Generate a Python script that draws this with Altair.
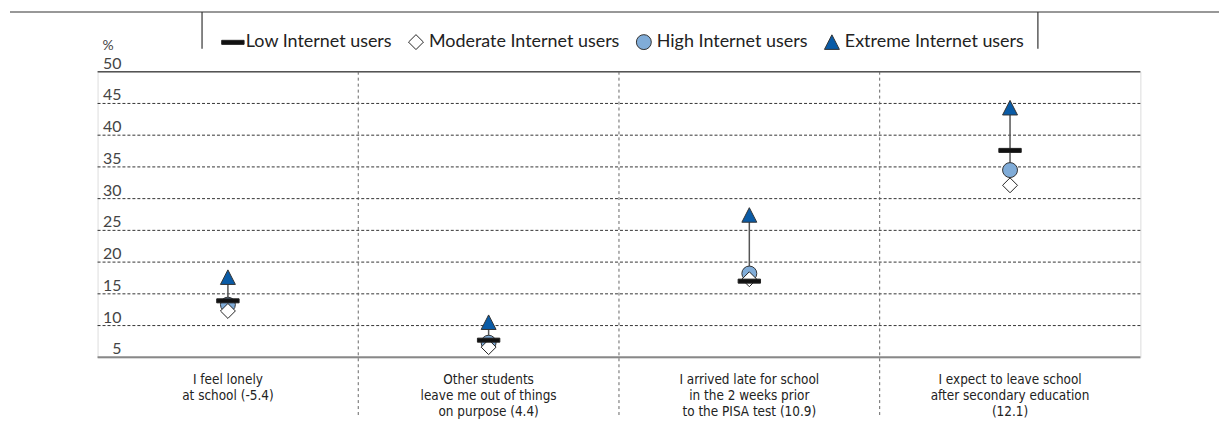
import altair as alt
import pandas as pd

# ---- data ----
categories = [
    "I feel lonely\nat school (-5.4)",
    "Other students\nleave me out of things\non purpose (4.4)",
    "I arrived late for school\nin the 2 weeks prior\nto the PISA test (10.9)",
    "I expect to leave school\nafter secondary education\n(12.1)",
]
groups = ["Low Internet users", "Moderate Internet users", "High Internet users", "Extreme Internet users"]
low = [13.9, 7.7, 17.0, 37.6]
moderate = [12.3, 6.6, 17.3, 32.1]
high = [13.3, 7.3, 18.2, 34.5]
extreme = [17.6, 10.5, 27.4, 44.3]
y_ticks = [5, 10, 15, 20, 25, 30, 35, 40, 45, 50]

series = {groups[0]: low, groups[1]: moderate, groups[2]: high, groups[3]: extreme}
draw_order = [groups[2], groups[1], groups[0], groups[3]]

rows = []
for g in draw_order:
    for i, v in enumerate(series[g]):
        rows.append({"pos": i + 0.5, "group": g, "value": v})
points = pd.DataFrame(rows)

ranges = pd.DataFrame({
    "pos": [i + 0.5 for i in range(len(categories))],
    "lo": [min(low[i], moderate[i], high[i], extreme[i]) for i in range(len(categories))],
    "hi": [max(low[i], moderate[i], high[i], extreme[i]) for i in range(len(categories))],
})
cats = pd.DataFrame({"pos": [i + 0.5 for i in range(len(categories))], "label": categories})
seps = pd.DataFrame({"pos": [i for i in range(1, len(categories))]})
ticks = pd.DataFrame({"v": y_ticks})
grid = pd.DataFrame({"v": [t for t in y_ticks if t not in (y_ticks[0], y_ticks[-1])]})
top = pd.DataFrame({"v": [y_ticks[-1]]})
bottom = pd.DataFrame({"v": [y_ticks[0]]})
one = pd.DataFrame({"a": [0]})

W, H = 1048, 287
xs = alt.Scale(domain=[0, len(categories)], nice=False, zero=False)
ys = alt.Scale(domain=[y_ticks[0], y_ticks[-1]], nice=False, zero=False)
X = alt.X("pos:Q", scale=xs, axis=None)

FONT = "Lato"
NARROW = "Liberation Sans Narrow, DejaVu Sans Condensed, Roboto Condensed, Arial Narrow, sans-serif"
DASH = "M-1.5,-0.27L1.5,-0.27L1.5,0.27L-1.5,0.27Z"
TRI = "M0,-1L1,0.95L-1,0.95Z"
DIAM = "M0,-1L1,0L0,1L-1,0Z"
CIRC = "circle"

grid_l = alt.Chart(grid).mark_rule(color="#333", strokeWidth=1, strokeDash=[3, 2]).encode(
    y=alt.Y("v:Q", scale=ys, axis=None))
top_l = alt.Chart(top).mark_rule(color="#555", strokeWidth=1.5).encode(y=alt.Y("v:Q", scale=ys, axis=None))
bot_l = alt.Chart(bottom).mark_rule(color="#888", strokeWidth=2).encode(y=alt.Y("v:Q", scale=ys, axis=None))

sep_l = alt.Chart(seps).mark_rule(color="#666", strokeWidth=1, strokeDash=[3, 3]).encode(
    x=X, y=alt.value(0), y2=alt.value(348))

tick_l = alt.Chart(ticks).mark_text(align="right", baseline="alphabetic", dy=-3, font=FONT,
                                    fontSize=16, color="#444").encode(
    y=alt.Y("v:Q", scale=ys, axis=None), x=alt.value(24), text=alt.Text("v:Q"))

pct_l = alt.Chart(one).mark_text(align="left", baseline="alphabetic", font=FONT, fontSize=14,
                                 color="#444").encode(x=alt.value(5), y=alt.value(-22), text=alt.value("%"))

range_l = alt.Chart(ranges).mark_rule(color="#555", strokeWidth=1.5).encode(
    x=X, y=alt.Y("lo:Q", scale=ys, axis=None), y2="hi:Q")

leg = alt.Legend(title=None, orient="none", legendX=127, legendY=-39, direction="horizontal",
                 labelFont=FONT, labelFontSize=18, labelColor="#222", labelLimit=400, symbolSize=225,
                 symbolStrokeColor="#333", symbolStrokeWidth=1, columnPadding=14, labelOffset=4,
                 symbolOpacity=1)
pts_l = alt.Chart(points).mark_point(filled=True, size=225, strokeWidth=1,
                                     opacity=1, fillOpacity=1, strokeOpacity=1).encode(
    x=X, y=alt.Y("value:Q", scale=ys, axis=None),
    shape=alt.Shape("group:N", scale=alt.Scale(domain=groups, range=[DASH, DIAM, CIRC, TRI]), legend=leg),
    fill=alt.Fill("group:N", scale=alt.Scale(domain=groups, range=["#111111", "#ffffff", "#80acd8", "#0a5ba6"]),
                  legend=leg),
    stroke=alt.Stroke("group:N", scale=alt.Scale(domain=groups, range=["#222222", "#222222", "#333333", "#333333"]),
                      legend=leg),
)

cat_l = alt.Chart(cats).mark_text(align="center", baseline="top", lineBreak="\n", lineHeight=16,
                                  font=NARROW, fontSize=13.5, color="#222").encode(
    x=X, y=alt.value(303), text="label:N")

title_line = alt.Chart(one).mark_rule(color="#333", strokeWidth=1.2).encode(
    x=alt.value(-88), x2=alt.value(1129), y=alt.value(-60))
box_l = alt.Chart(one).mark_rule(color="#333", strokeWidth=1.2).encode(
    x=alt.value(105), y=alt.value(-60), y2=alt.value(-23))
box_r = alt.Chart(one).mark_rule(color="#333", strokeWidth=1.2).encode(
    x=alt.value(945), y=alt.value(-60), y2=alt.value(-23))

chart = alt.layer(
    grid_l, top_l, bot_l, sep_l, tick_l, pct_l, range_l, pts_l, cat_l, title_line, box_l, box_r
).properties(
    width=W, height=H,
    autosize=alt.AutoSizeParams(type="none"),
    padding={"left": 90, "top": 63, "right": 79, "bottom": 65},
).configure_view(stroke=None).configure(background="white")

chart.save("out.html", embed_options={"renderer": "svg", "actions": False})
